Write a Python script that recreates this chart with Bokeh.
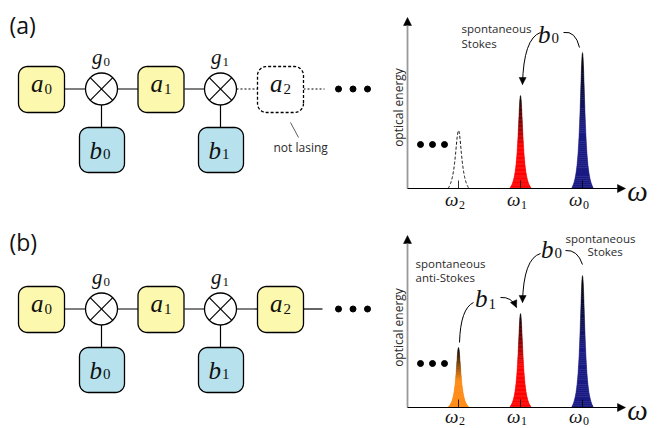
import numpy as np
from bokeh.plotting import figure
from bokeh.models import Range1d, Arrow, NormalHead
from bokeh.layouts import row, column
from bokeh.embed import file_html
from bokeh.resources import INLINE
from bokeh.core.properties import value

# ---------------- data ----------------
panel_tags = ["(a)", "(b)"]
optical_subs = ["0", "1", "2"]          # a_0, a_1, a_2
acoustic_subs = ["0", "1"]              # b_0, b_1
coupling_subs = ["0", "1"]              # g_0, g_1
freq_positions = [1.0, 2.0, 3.0]        # omega_2, omega_1, omega_0 (relative frequency)
freq_subs = ["2", "1", "0"]
peak_heights_a = [0.58, 0.93, 1.36]     # optical energy (a)
peak_heights_b = [0.60, 0.94, 1.32]     # optical energy (b)
lasing_a = [False, True, True]
lasing_b = [True, True, True]
peak_colors = ["#FF8A14", "#FF0000", "#1B1B84"]

SANS = "Open Sans"
SERIF = "Liberation Serif"
YELLOW = "#FCF8AE"
BLUE = "#B6E1ED"
TXT = "#2b2b2b"

# vertical ink offset (fraction of font size) of glyph centre relative to em-middle
INK = {"a": 0.11, "\u03c9": 0.11, "g": 0.22, "b": 0.0}


def base_fig(w, h, xr, yr):
    f = figure(width=w, height=h, x_range=xr, y_range=yr, x_axis_type=None,
               y_axis_type=None, toolbar_location=None, output_backend="svg",
               min_border=0)
    f.outline_line_color = None
    f.background_fill_color = "white"
    f.border_fill_color = "white"
    return f


class Canvas:
    def __init__(self, fig, fx, fy):
        self.fig, self.fx, self.fy = fig, fx, fy

    def text(self, x, y, s, size, font=SANS, style="normal", align="left",
             baseline="middle", color=TXT, angle=0.0):
        self.fig.text(x=[self.fx(x)], y=[self.fy(y)], text=[s],
                      text_font=value(font), text_font_size=f"{size}px",
                      text_font_style=style, text_align=align,
                      text_baseline=baseline, text_color=color, angle=angle)

    def math(self, xs, yc, ycs, letter, sub, size, subsize, gap=1.0):
        # yc / ycs: visual (ink) centre of letter / subscript
        self.text(xs, yc - INK.get(letter, 0.0) * size, letter, size, SERIF, "italic",
                  "right", "middle", "#111111")
        self.text(xs + gap, ycs, sub, subsize, SERIF, "normal", "left", "middle", "#111111")

    def line(self, xs, ys, color="black", width=1.2, dash="solid"):
        self.fig.line([self.fx(x) for x in xs], [self.fy(y) for y in ys],
                      line_color=color, line_width=width, line_dash=dash)

    def curve(self, p0, c, p1, arrow=False):
        fx, fy = self.fx, self.fy
        self.fig.quadratic(x0=[fx(p0[0])], y0=[fy(p0[1])], x1=[fx(p1[0])],
                           y1=[fy(p1[1])], cx=[fx(c[0])], cy=[fy(c[1])],
                           line_color="black", line_width=1.0)
        if arrow:
            ux, uy = p1[0] - c[0], p1[1] - c[1]
            n = (ux ** 2 + uy ** 2) ** 0.5
            ux, uy = ux / n, uy / n
            self.fig.add_layout(Arrow(
                end=NormalHead(size=7, fill_color="black", line_color="black",
                               line_width=0.5),
                x_start=fx(p1[0] - 2 * ux), y_start=fy(p1[1] - 2 * uy),
                x_end=fx(p1[0]), y_end=fy(p1[1]), line_alpha=0.0))


def rrect(cx, cy, w, h, r, n=10):
    xs, ys = [], []
    corners = [(cx + w / 2 - r, cy + h / 2 - r, 0), (cx - w / 2 + r, cy + h / 2 - r, 90),
               (cx - w / 2 + r, cy - h / 2 + r, 180), (cx + w / 2 - r, cy - h / 2 + r, 270)]
    for ccx, ccy, a0 in corners:
        for t in np.linspace(np.radians(a0), np.radians(a0 + 90), n):
            xs.append(ccx + r * np.cos(t))
            ys.append(ccy + r * np.sin(t))
    return xs, ys


# ---------------- left diagrams ----------------
LW, H = 382, 428
left = base_fig(LW, H, Range1d(0, LW), Range1d(H, 0))
L = Canvas(left, lambda v: v, lambda v: v)

a_cx = [41, 160.5, 280]
g_cx = [101, 220]
b_cx = [101.5, 220.5]

for k, tag in enumerate(panel_tags):
    dy = 220 * k
    ly = 88.5 + dy
    L.text(9, 24 + dy * 0.99, tag, 23, SANS, color="#111111")
    a2_lasing = (k == 1)
    # connecting lines
    L.line([64, 85], [ly, ly])
    L.line([117, 138], [ly, ly])
    L.line([184, 204], [ly, ly])
    if a2_lasing:
        L.line([236, 257], [ly, ly])
        L.line([303, 322], [ly, ly])
    else:
        L.line([236, 257], [ly, ly], dash="2 2")
        L.line([303, 324], [ly, ly], dash="2 2")
    for gx in g_cx:
        L.line([gx, gx], [ly + 16, 127 + dy])
    # optical boxes
    cy = 89 + dy
    for i, (cx, s) in enumerate(zip(a_cx, optical_subs)):
        xs, ys = rrect(cx, cy, 46, 46, 9)
        if i == 2 and not a2_lasing:
            left.patch(xs, ys, fill_color="white", line_color="black",
                       line_width=1.3, line_dash="3 2")
        else:
            left.patch(xs, ys, fill_color=YELLOW, line_color="black", line_width=1.3)
        L.math(cx + 2, cy - 3.5, cy - 1, "a", s, 25, 15)
    # acoustic boxes
    cyb = 149.5 + dy
    for cx, s in zip(b_cx, acoustic_subs):
        xs, ys = rrect(cx, cyb, 45, 45, 9)
        left.patch(xs, ys, fill_color=BLUE, line_color="black", line_width=1.3)
        L.math(cx, cyb + 0.5, cyb + 4, "b", s, 25, 15)
    # couplings
    for gx, s in zip(g_cx, coupling_subs):
        left.circle(x=[gx], y=[ly], radius=16, fill_color="white",
                    line_color="black", line_width=1.3)
        d = 11.3
        L.line([gx - d, gx + d], [ly - d, ly + d], width=1.2)
        L.line([gx - d, gx + d], [ly + d, ly - d], width=1.2)
        L.math(gx + 1, 61 + dy, 61.5 + dy, "g", s, 21, 13)
    # continuation dots
    left.scatter(x=[338, 352.5, 367], y=[ly, ly, ly], size=6, color="black")
    if not a2_lasing:
        L.line([290, 298], [122, 137], width=0.8, color="#333333")
        L.text(273, 147, "not lasing", 12, SANS, color=TXT)


# ---------------- spectra ----------------
PX_F, PX_E = 62.0, 100.0
RW = 657 - LW


def hex_rgb(h):
    h = h.lstrip("#")
    return tuple(int(h[i:i + 2], 16) for i in (0, 2, 4))


def spectrum(top, bottom, base, heights, lasing, ytop, notes):
    fx = lambda px: 1.0 + (px - 458.0) / PX_F
    fy = lambda py: (base - py) / PX_E
    fig = base_fig(RW, bottom - top, Range1d(fx(LW), fx(657)), Range1d(fy(bottom), fy(top)))
    C = Canvas(fig, fx, fy)
    # peaks (data units)
    for f0, h, las, col in zip(freq_positions, heights, lasing, peak_colors):
        g = (3.0 if las else 4.0) / PX_F
        c = (11.0 if las else 10.5) / PX_F
        Lc = 1.0 / (1.0 + (c / g) ** 2)
        if las:
            N = 70
            e = np.linspace(0, h, N + 1)
            Lv = e / h * (1 - Lc) + Lc
            w = g * np.sqrt(np.maximum(1.0 / Lv - 1.0, 0.0))
            rgb = hex_rgb(col)
            xs, ys, cols = [], [], []
            for k in range(N):
                xs.append([f0 - w[k], f0 + w[k], f0 + w[k + 1], f0 - w[k + 1]])
                ys.append([e[k], e[k], e[k + 1], e[k + 1]])
                t = (e[k] + e[k + 1]) / 2 / h
                m = min(max((t - 0.45) / 0.55, 0.0), 1.0)
                cc = tuple(int(round(v * (1 - m))) for v in rgb)
                cols.append("#%02x%02x%02x" % cc)
            fig.patches(xs, ys, fill_color=cols, line_color=cols, line_width=0.5)
        else:
            x = np.linspace(-c, c, 241)
            Lx = 1.0 / (1.0 + (x / g) ** 2)
            E = h * (Lx - Lc) / (1 - Lc)
            fig.line(f0 + x, E, line_color="black", line_width=1.0, line_dash="3 2")
        fig.line([f0, f0], [0, 0.08], line_color="black", line_width=1.0, line_alpha=0.8)
    # frequency tick labels
    for f0, s in zip(freq_positions, freq_subs):
        px = 458.0 + (f0 - 1.0) * PX_F
        C.math(px, base + notes["tick_dy"], base + notes["tick_dy"] + 2.5,
               "\u03c9", s, 19, 12, gap=0.5)
    # axes
    fig.add_layout(Arrow(end=NormalHead(size=8, fill_color="black", line_color="black",
                                        line_width=0.5),
                         x_start=fx(407), y_start=0, x_end=fx(407), y_end=fy(ytop),
                         line_color="#9a9a9a", line_width=1.8))
    fig.add_layout(Arrow(end=NormalHead(size=8, fill_color="black", line_color="black",
                                        line_width=0.5),
                         x_start=fx(407), y_start=0, x_end=fx(625), y_end=0,
                         line_color="black", line_width=1.2))
    C.text(637, base + 5.5 - 0.11 * 29, "\u03c9", 29, SERIF, "italic", "center", "middle", "#111111")
    C.text(398, notes["ylab"], "optical energy", 12, SANS, align="center", angle=np.pi / 2)
    fig.scatter(x=[fx(420), fx(432), fx(444)], y=[fy(notes["dots"])] * 3, size=6, color="black")
    for (x, y, s, al) in notes["texts"]:
        C.text(x, y, s, 11.5, SANS, align=al)
    for (x, yc, ycs, sub) in notes["blabels"]:
        C.math(x, yc, ycs, "b", sub, 25, 15)
    for (p0, c, p1, arr) in notes["curves"]:
        C.curve(p0, c, p1, arr)
    return fig


spec_a = spectrum(0, 216, 188, peak_heights_a, lasing_a, 17, {
    "ylab": 107, "dots": 144, "tick_dy": 13.5,
    "texts": [(461, 28, "spontaneous", "left"), (461, 43, "Stokes", "left")],
    "blabels": [(550, 33.5, 37.5, "0")],
    "curves": [((540, 32), (523, 38), (522, 84), True),
               ((563, 32), (575, 30), (579, 47), False)],
})

spec_b = spectrum(216, 428, 407, peak_heights_b, lasing_b, 235, {
    "ylab": 327, "dots": 363, "tick_dy": 11.0,
    "texts": [(415, 263, "spontaneous", "left"), (415, 277, "anti-Stokes", "left"),
              (565, 238, "spontaneous", "left"), (587, 251, "Stokes", "left")],
    "blabels": [(553, 248.5, 252, "0"), (487, 298, 303, "1")],
    "curves": [((540, 253), (523, 258), (522, 302), True),
               ((565, 250), (577, 249), (582, 264), False),
               ((500, 297), (511, 296), (516, 307), True),
               ((473, 302), (460, 308), (459, 342), False)],
})

layout = row(left, column(spec_a, spec_b, spacing=0), spacing=0)
open("out.html", "w").write(file_html(layout, INLINE))
